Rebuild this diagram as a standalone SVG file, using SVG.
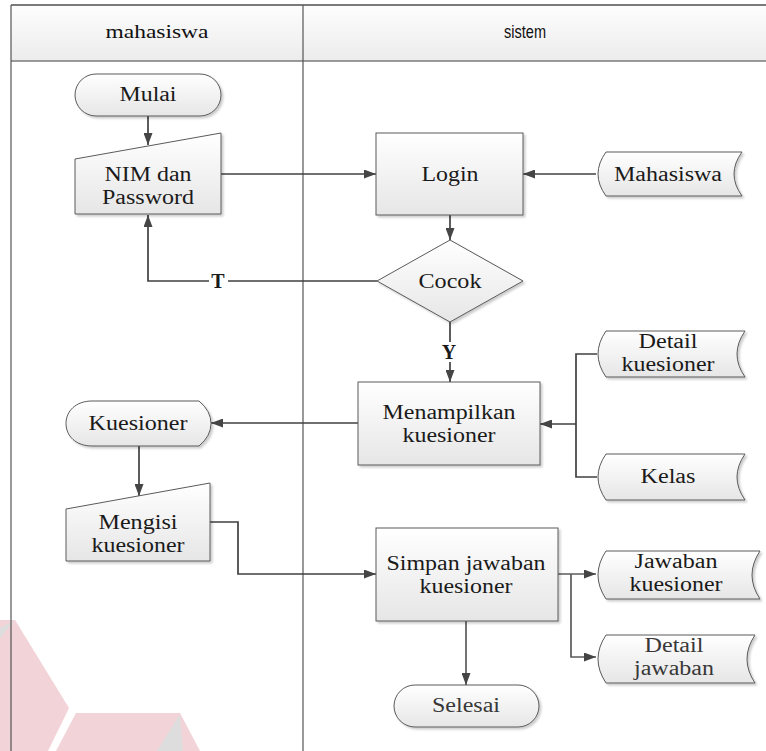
<svg xmlns="http://www.w3.org/2000/svg" width="766" height="751" viewBox="0 0 766 751">
  <defs>
    <linearGradient id="fillGrad" x1="0" y1="0" x2="0" y2="1">
      <stop offset="0" stop-color="#ffffff"/>
      <stop offset="1" stop-color="#e6e6e6"/>
    </linearGradient>
    <linearGradient id="headGrad" x1="0" y1="0" x2="0" y2="1">
      <stop offset="0" stop-color="#fdfdfd"/>
      <stop offset="1" stop-color="#ececec"/>
    </linearGradient>
    <filter id="shadow" x="-10%" y="-10%" width="130%" height="140%">
      <feDropShadow dx="2" dy="2" stdDeviation="1.2" flood-color="#000" flood-opacity="0.2"/>
    </filter>
    <marker id="arrow" markerUnits="userSpaceOnUse" markerWidth="12" markerHeight="9" refX="12" refY="4.5" orient="auto">
      <path d="M0,0 L12,4.5 L0,9 Z" fill="#454545"/>
    </marker>
  </defs>
  <style>
    .node { fill: url(#fillGrad); stroke: #5a5a5a; stroke-width: 1; filter: url(#shadow); }
    .label { font-family: "Liberation Serif", "Times New Roman", serif; font-size: 20px; fill: #1a1a1a; text-anchor: middle; }
    .soft { fill: #383838; }
    .bold { font-weight: bold; }
    .head { font-size: 19px; fill: #111; text-anchor: middle; }
    .serif { font-family: "Liberation Serif", "Times New Roman", serif; }
    .sans { font-family: "Liberation Sans", Arial, sans-serif; }
    .lane { fill: none; stroke: #555; stroke-width: 1.2; }
    .edge { fill: none; stroke: #404040; stroke-width: 1.7; }
    .edge.light { stroke: #5c5c5c; }
  </style>

  <rect width="766" height="751" fill="#ffffff"/>

  <!-- watermark shapes, lower left -->
  <g id="watermark">
    <polygon points="0,620 15,620 69,708 48,751 0,751" fill="#f2d3d8"/>
    <polygon points="76,713 180,713 200,751 56,751" fill="#f2d3d8"/>
    <polygon points="15,620 0,638 0,628" fill="#dddddd"/>
    <polygon points="180,714 157,751 183,751" fill="#dddddd"/>
  </g>

  <!-- swimlane frame -->
  <g id="lanes">
    <rect x="11" y="5" width="770" height="56" fill="url(#headGrad)" stroke="none"/>
    <line x1="11" y1="5" x2="766" y2="5" stroke="#7a7a7a" stroke-width="2"/>
    <line x1="11" y1="61" x2="766" y2="61" stroke="#7a7a7a" stroke-width="1.5"/>
    <line class="lane" x1="11" y1="5" x2="11" y2="751"/>
    <line class="lane" x1="303" y1="5" x2="303" y2="751"/>
    <text class="head serif" x="157" y="38" textLength="103" lengthAdjust="spacingAndGlyphs">mahasiswa</text>
    <text class="head sans" x="525" y="38" font-size="18" textLength="42" lengthAdjust="spacingAndGlyphs">sistem</text>
  </g>

  <!-- connectors -->
  <g id="connectors">
    <path class="edge" d="M148,116 V145" marker-end="url(#arrow)"/>
    <path class="edge" d="M221,174 H376" marker-end="url(#arrow)"/>
    <path class="edge" d="M596,174 H523" marker-end="url(#arrow)"/>
    <path class="edge" d="M450,215 V240" marker-end="url(#arrow)"/>
    <path class="edge" d="M377,281 H148 V215" marker-end="url(#arrow)"/>
    <path class="edge" d="M450,322 V382" marker-end="url(#arrow)"/>
    <path class="edge" d="M597,354 H576 V477 H597"/>
    <path class="edge" d="M576,424 H540" marker-end="url(#arrow)"/>
    <path class="edge" d="M358,423 H211" marker-end="url(#arrow)"/>
    <path class="edge" d="M139,446 V496" marker-end="url(#arrow)"/>
    <path class="edge" d="M210,522 H238 V574 H376" marker-end="url(#arrow)"/>
    <path class="edge light" d="M558,574 H596" marker-end="url(#arrow)"/>
    <path class="edge light" d="M571,574 V657 H596" marker-end="url(#arrow)"/>
    <path class="edge light" d="M466,621 V685" marker-end="url(#arrow)"/>
    <rect x="209" y="272" width="19" height="18" fill="#ffffff"/>
    <text class="label bold" x="218" y="288">T</text>
    <rect x="440" y="342" width="19" height="20" fill="#ffffff"/>
    <text class="label bold" x="449" y="359">Y</text>
  </g>

  <!-- start -->
  <g id="mulai">
    <rect class="node" x="75" y="74" width="146" height="42" rx="21"/>
    <text class="label" x="148" y="101" textLength="57" lengthAdjust="spacingAndGlyphs">Mulai</text>
  </g>

  <g id="nim-password">
    <polygon class="node" points="75,159 221,133 221,214 75,214"/>
    <text class="label" x="148" y="181" textLength="87" lengthAdjust="spacingAndGlyphs">NIM dan</text>
    <text class="label" x="148" y="204" textLength="92" lengthAdjust="spacingAndGlyphs">Password</text>
  </g>

  <g id="login">
    <rect class="node" x="376" y="133" width="147" height="82"/>
    <text class="label" x="450" y="181" textLength="57" lengthAdjust="spacingAndGlyphs">Login</text>
  </g>

  <g id="db-mahasiswa">
    <path class="node" d="M606,152 H742 Q726,174 742,196 H606 Q590,174 606,152 Z"/>
    <text class="label" x="668" y="181" textLength="108" lengthAdjust="spacingAndGlyphs">Mahasiswa</text>
  </g>

  <g id="cocok">
    <polygon class="node" points="450,240 523,281 450,322 377,281"/>
    <text class="label" x="450" y="288" textLength="63" lengthAdjust="spacingAndGlyphs">Cocok</text>
  </g>

  <g id="db-detail-kuesioner">
    <path class="node" d="M606,331 H745 Q729,354 745,377 H606 Q590,354 606,331 Z"/>
    <text class="label" x="668" y="348" textLength="59" lengthAdjust="spacingAndGlyphs">Detail</text>
    <text class="label" x="668" y="371" textLength="93" lengthAdjust="spacingAndGlyphs">kuesioner</text>
  </g>

  <g id="menampilkan">
    <rect class="node" x="358" y="382" width="182" height="83"/>
    <text class="label" x="449" y="419" textLength="133" lengthAdjust="spacingAndGlyphs">Menampilkan</text>
    <text class="label" x="449" y="442" textLength="93" lengthAdjust="spacingAndGlyphs">kuesioner</text>
  </g>

  <g id="db-kelas">
    <path class="node" d="M606,454 H745 Q729,477 745,500 H606 Q590,477 606,454 Z"/>
    <text class="label" x="668" y="483" textLength="55" lengthAdjust="spacingAndGlyphs">Kelas</text>
  </g>

  <g id="kuesioner">
    <path class="node" d="M92,401 H199 Q211,411 211,423.5 Q211,436 199,446 H92 C76,446 66,436 66,423.5 C66,411 76,401 92,401 Z"/>
    <text class="label" x="138" y="430" textLength="99" lengthAdjust="spacingAndGlyphs">Kuesioner</text>
  </g>

  <g id="mengisi">
    <polygon class="node" points="66,509 210,483 210,561 66,561"/>
    <text class="label" x="138" y="529" textLength="79" lengthAdjust="spacingAndGlyphs">Mengisi</text>
    <text class="label" x="138" y="552" textLength="93" lengthAdjust="spacingAndGlyphs">kuesioner</text>
  </g>

  <g id="simpan">
    <rect class="node" x="376" y="528" width="182" height="93"/>
    <text class="label" x="466" y="570" textLength="159" lengthAdjust="spacingAndGlyphs">Simpan jawaban</text>
    <text class="label" x="466" y="593" textLength="93" lengthAdjust="spacingAndGlyphs">kuesioner</text>
  </g>

  <g id="db-jawaban-kuesioner">
    <path class="node" d="M606,551 H760 Q744,575 760,599 H606 Q590,575 606,551 Z"/>
    <text class="label" x="676" y="568" textLength="83" lengthAdjust="spacingAndGlyphs">Jawaban</text>
    <text class="label" x="676" y="591" textLength="93" lengthAdjust="spacingAndGlyphs">kuesioner</text>
  </g>

  <g id="db-detail-jawaban">
    <path class="node" d="M606,635 H755 Q739,659 755,683 H606 Q590,659 606,635 Z"/>
    <text class="label soft" x="674" y="652" textLength="59" lengthAdjust="spacingAndGlyphs">Detail</text>
    <text class="label soft" x="674" y="675" textLength="80" lengthAdjust="spacingAndGlyphs">jawaban</text>
  </g>

  <g id="selesai">
    <rect class="node" x="394" y="685" width="145" height="42" rx="21"/>
    <text class="label soft" x="466" y="712" textLength="68" lengthAdjust="spacingAndGlyphs">Selesai</text>
  </g>
</svg>
